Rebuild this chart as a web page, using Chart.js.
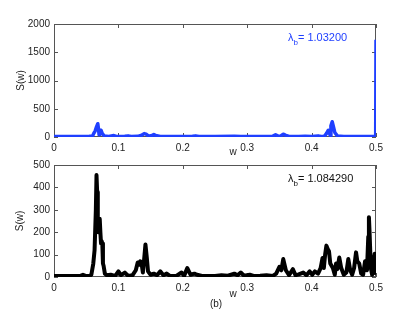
<!DOCTYPE html>
<html>
<head>
<meta charset="utf-8">
<script src="https://cdn.jsdelivr.net/npm/chart.js@4.4.0/dist/chart.umd.min.js"></script>
<style>
  body { margin: 0; background: #fff; }
  #wrap { position: relative; width: 415px; height: 313px; }
  canvas { position: absolute; left: 0; top: 0; }
</style>
</head>
<body>
<div id="wrap">
  <canvas id="chartTopo" width="415" height="313"></canvas>
  <canvas id="chartBase" width="415" height="313"></canvas>
</div>
<script>
// painel de cima (azul), lambda_b = 1.03200
const wTopo = [0, 0.02, 0.04, 0.055, 0.06, 0.062, 0.064, 0.066, 0.068, 0.069, 0.070, 0.071, 0.073, 0.075, 0.078,
  0.085, 0.093, 0.097, 0.11, 0.115, 0.12, 0.13, 0.136, 0.14, 0.143, 0.147, 0.152, 0.155, 0.158, 0.165,
  0.18, 0.2, 0.215, 0.22, 0.225, 0.25, 0.28, 0.29, 0.3, 0.32, 0.34, 0.344, 0.348, 0.352, 0.356, 0.36,
  0.365, 0.38, 0.39, 0.4, 0.41, 0.415, 0.42, 0.423, 0.426, 0.428, 0.429, 0.43, 0.432, 0.434, 0.436,
  0.44, 0.45, 0.47, 0.49, 0.498, 0.4995, 0.5];
const sTopo = [8, 8, 10, 12, 20, 70, 110, 180, 235, 150, 40, 110, 120, 60, 20,
  10, 25, 10, 12, 20, 10, 12, 30, 60, 50, 15, 25, 45, 25, 10,
  8, 10, 15, 20, 10, 8, 15, 10, 8, 10, 15, 40, 15, 20, 50, 30,
  10, 8, 15, 10, 20, 10, 15, 60, 120, 60, 20, 200, 270, 180, 80,
  20, 10, 8, 8, 10, 20, 1720];

// painel de baixo (preto), lambda_b = 1.084290
const wBase = [0, 0.01, 0.02, 0.03, 0.04, 0.045, 0.05, 0.055, 0.058, 0.061, 0.063, 0.065, 0.066, 0.067, 0.068,
  0.069, 0.07, 0.071, 0.072, 0.073, 0.074, 0.075, 0.076, 0.077, 0.079, 0.082, 0.088, 0.095, 0.1, 0.104,
  0.11, 0.115, 0.122, 0.127, 0.13, 0.132, 0.134, 0.136, 0.138, 0.14, 0.142, 0.144, 0.146, 0.15, 0.155,
  0.16, 0.165, 0.17, 0.175, 0.18, 0.19, 0.198, 0.202, 0.207, 0.212, 0.218, 0.222, 0.23, 0.24, 0.25,
  0.26, 0.27, 0.28, 0.285, 0.29, 0.295, 0.304, 0.31, 0.32, 0.33, 0.34, 0.345, 0.35, 0.353, 0.356,
  0.36, 0.365, 0.371, 0.375, 0.38, 0.387, 0.392, 0.397, 0.401, 0.405, 0.41, 0.414, 0.417, 0.419, 0.421,
  0.423, 0.425, 0.427, 0.429, 0.433, 0.436, 0.438, 0.44, 0.443, 0.446, 0.45, 0.454, 0.457, 0.46, 0.463,
  0.466, 0.469, 0.471, 0.474, 0.477, 0.48, 0.483, 0.486, 0.488, 0.489, 0.49, 0.492, 0.494, 0.496, 0.498, 0.5];
const sBase = [4, 5, 4, 5, 4, 10, 4, 5, 10, 60, 120, 300, 455, 380, 220,
  200, 250, 260, 200, 150, 160, 150, 60, 50, 15, 8, 10, 5, 25, 8,
  20, 5, 8, 30, 65, 55, 70, 60, 20, 80, 145, 90, 25, 10, 15,
  8, 25, 8, 15, 5, 5, 20, 5, 40, 10, 15, 10, 5, 4, 5,
  8, 6, 15, 8, 20, 6, 10, 5, 6, 8, 5, 15, 45, 30, 80,
  30, 8, 35, 8, 12, 20, 8, 25, 10, 25, 15, 40, 85, 40, 100,
  140, 125, 115, 60, 40, 10, 60, 35, 87, 40, 10, 20, 80, 30, 10,
  40, 110, 70, 60, 15, 10, 70, 30, 180, 267, 200, 40, 10, 60, 104, 10];

const ticksW = [0, 0.1, 0.2, 0.3, 0.4, 0.5];
const ticksTopo = [0, 500, 1000, 1500, 2000];
const ticksBase = [0, 100, 200, 300, 400, 500];

const fonte = '"Liberation Sans", Arial, sans-serif';
Chart.defaults.font.family = fonte;
Chart.defaults.font.size = 10;
Chart.defaults.color = '#222';

// caixa estilo matlab + marcas de escala para dentro
const moldura = {
  id: 'moldura',
  beforeDatasetsDraw(chart) {
    const { ctx, chartArea: a, scales } = chart;
    ctx.save();
    ctx.strokeStyle = '#555';
    ctx.lineWidth = 1;
    ctx.strokeRect(a.left + 0.5, a.top + 0.5, a.right - a.left - 1, a.bottom - a.top - 1);
    ctx.beginPath();
    scales.x.ticks.forEach(t => {
      const px = Math.round(scales.x.getPixelForValue(t.value)) + 0.5;
      ctx.moveTo(px, a.bottom); ctx.lineTo(px, a.bottom - 4);
      ctx.moveTo(px, a.top); ctx.lineTo(px, a.top + 4);
    });
    scales.y.ticks.forEach(t => {
      const py = Math.round(scales.y.getPixelForValue(t.value)) + 0.5;
      ctx.moveTo(a.left, py); ctx.lineTo(a.left + 4, py);
      ctx.moveTo(a.right, py); ctx.lineTo(a.right - 4, py);
    });
    ctx.stroke();
    ctx.restore();
  },
  afterDraw(chart, args, opts) {
    const { ctx, chartArea: a } = chart;
    ctx.save();
    ctx.fillStyle = '#222';
    ctx.font = '10px ' + fonte;
    ctx.textAlign = 'center';
    ctx.textBaseline = 'middle';
    // S(w) vertical
    ctx.save();
    ctx.translate(opts.ylabelX, (a.top + a.bottom) / 2);
    ctx.rotate(-Math.PI / 2);
    ctx.fillText('S(w)', 0, 0);
    ctx.restore();
    ctx.fillText('w', 233, opts.wY);
    if (opts.legenda) ctx.fillText(opts.legenda, 216, 304.5);
    // lambda_b = ...
    ctx.fillStyle = opts.cor;
    ctx.textAlign = 'left';
    ctx.textBaseline = 'alphabetic';
    let x = 288;
    const y = opts.anotY;
    ctx.font = '11px ' + fonte;
    ctx.fillText('λ', x, y);
    x += ctx.measureText('λ').width;
    ctx.font = '8px ' + fonte;
    ctx.fillText('b', x, y + 4);
    x += ctx.measureText('b').width;
    ctx.font = '11px ' + fonte;
    ctx.fillText('= ' + opts.valor, x, y);
    ctx.restore();
  }
};

function montaGrafico(id, ws, ss, cor, largura, yMax, yTicks, padTop, padBottom, extras) {
  return new Chart(document.getElementById(id), {
    type: 'line',
    data: {
      datasets: [{
        data: ws.map((w, i) => ({ x: w, y: ss[i] })),
        borderColor: cor,
        borderWidth: largura,
        borderJoinStyle: 'round',
        pointRadius: 0,
        tension: 0,
        fill: false
      }]
    },
    options: {
      responsive: false,
      animation: false,
      layout: { padding: { left: 0, right: 39, top: padTop, bottom: padBottom } },
      plugins: { legend: { display: false }, tooltip: { enabled: false }, moldura: extras },
      scales: {
        x: {
          type: 'linear', min: 0, max: 0.5,
          afterBuildTicks: s => { s.ticks = ticksW.map(v => ({ value: v })); },
          afterFit: s => { s.height = 20; },
          grid: { display: false, drawTicks: false }, border: { display: false },
          ticks: { padding: 5, maxRotation: 0, autoSkip: false, callback: v => String(v) }
        },
        y: {
          min: 0, max: yMax,
          afterBuildTicks: s => { s.ticks = yTicks.map(v => ({ value: v })); },
          afterFit: s => { s.width = 54; },
          grid: { display: false, drawTicks: false }, border: { display: false },
          ticks: { padding: 4, autoSkip: false, callback: v => String(v) }
        }
      }
    },
    plugins: [moldura]
  });
}

montaGrafico('chartTopo', wTopo, sTopo, '#1f3fff', 3.5, 2000, ticksTopo, 24, 156,
  { ylabelX: 21, wY: 152, cor: '#1f3fff', valor: '1.03200', anotY: 41 });
montaGrafico('chartBase', wBase, sBase, '#000', 4, 500, ticksBase, 165, 16,
  { ylabelX: 20, wY: 294.5, cor: '#111', valor: '1.084290', anotY: 182, legenda: '(b)' });
</script>
</body>
</html>
